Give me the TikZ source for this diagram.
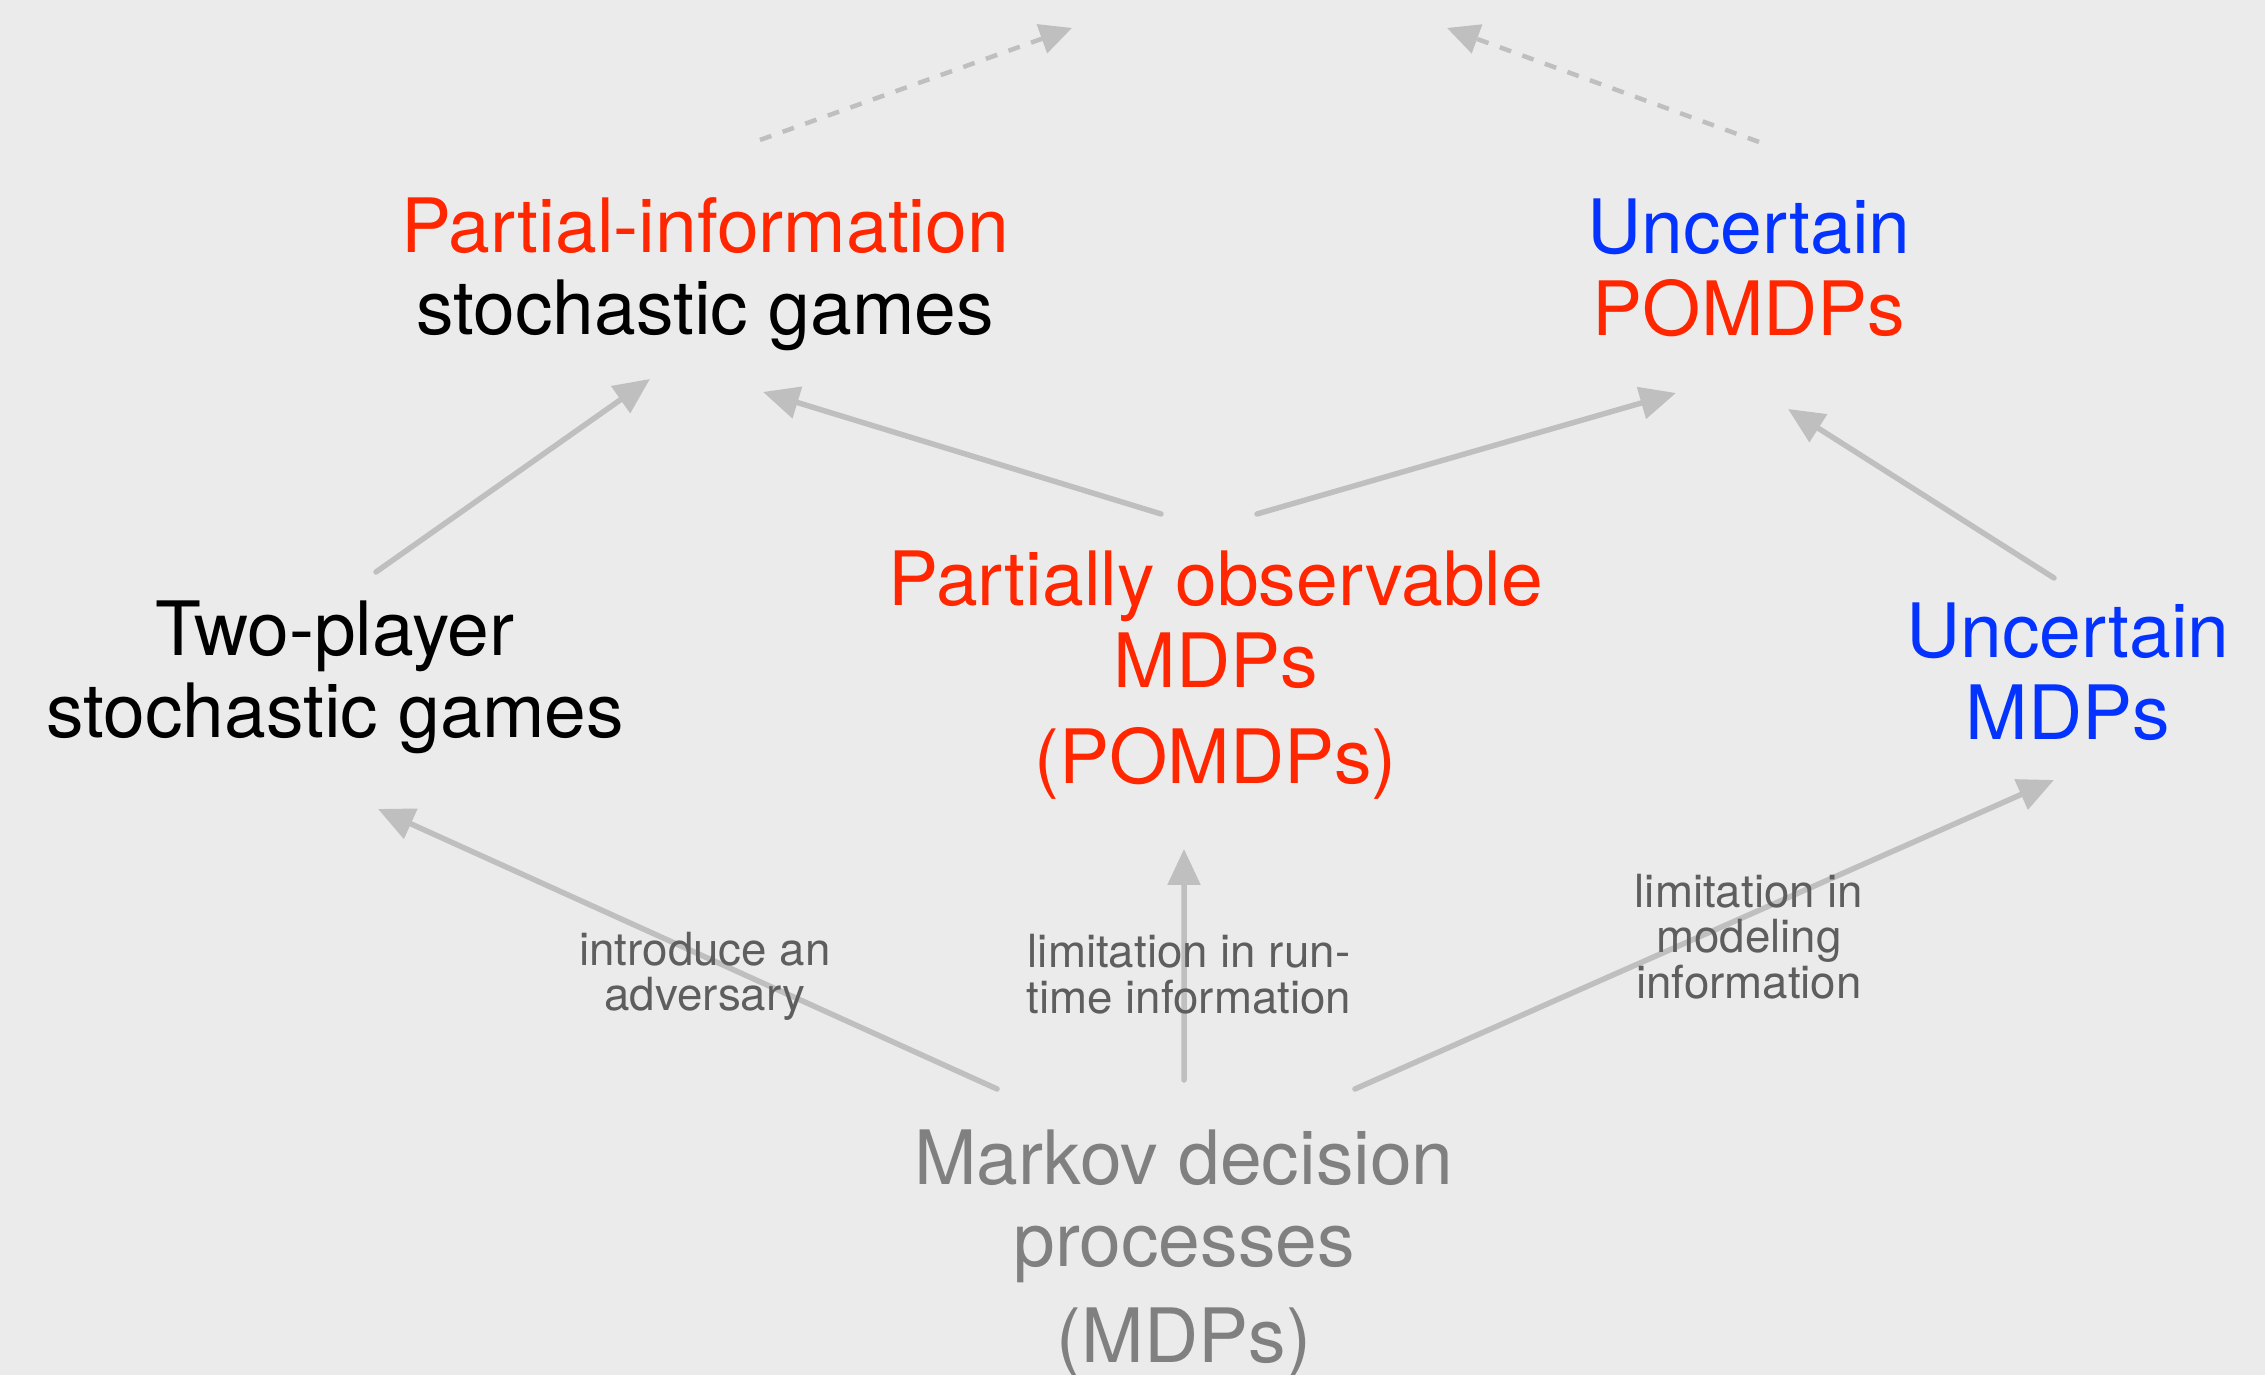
\documentclass[tikz,border=0pt]{standalone}
\usepackage{fontspec}
\setmainfont{TeX Gyre Heros}
\usetikzlibrary{arrows.meta,calc}
\definecolor{bg}{HTML}{EBEBEB}
\definecolor{kred}{HTML}{FF2600}
\definecolor{kblue}{HTML}{0433FF}
\definecolor{arrgray}{HTML}{BFBFBF}
\definecolor{mdpgray}{HTML}{808080}
\definecolor{lblgray}{HTML}{5E5E5E}
\begin{document}
\begin{tikzpicture}[
  big/.style={align=center, inner sep=0pt, font=\fontsize{21.34pt}{23.33pt}\selectfont},
  lbl/.style={align=center, inner sep=0pt, text=lblgray, font=\fontsize{13pt}{12.95pt}\selectfont},
  arr/.style={draw=arrgray, line width=0.055cm, line cap=round, -{Triangle[length=0.36cm,width=0.32cm]}},
  darr/.style={draw=arrgray, line width=0.045cm, dash pattern=on 0.12cm off 0.12cm, -{Triangle[length=0.32cm,width=0.3cm]}}
]
\fill[bg] (0,0) rectangle (22.65,13.75);
\useasboundingbox (0,0) rectangle (22.65,13.75);

\node[big] (pi) at (7.05,11.005) {\textcolor{kred}{Partial-information}\\stochastic games};
\node[big] (up) at (17.49,11.07) {\textcolor{kblue}{Uncertain}\\\textcolor{kred}{POMDPs}};
\node[big] (twop) at (3.35,6.975) {Two-player\\stochastic games};
\node[big, text=kred] (pomdp) at (12.156,6.9975) {Partially observable\\MDPs\\[0.135cm](POMDPs)};
\node[big, text=kblue] (umdp) at (20.68,7.035) {Uncertain\\MDPs};
\node[big, text=mdpgray] (mdp) at (11.84,1.2075) {Markov decision\\processes\\[0.135cm](MDPs)};

\draw[arr] ($(mdp.center)+(-1.87,1.6525)$) -- ($(twop.center)+(0.43,-1.315)$);
\draw[arr] ($(mdp.center)+(0,1.7425)$) -- ($(pomdp.center)+(-0.316,-1.7375)$);
\draw[arr] ($(mdp.center)+(1.71,1.6525)$) -- ($(umdp.center)+(-0.14,-1.085)$);
\draw[arr] ($(twop.center)+(0.41,1.055)$) -- ($(pi.center)+(-0.55,-1.045)$);
\draw[arr] ($(pomdp.center)+(-0.546,1.6125)$) -- ($(pi.center)+(0.58,-1.175)$);
\draw[arr] ($(pomdp.center)+(0.414,1.6125)$) -- ($(up.center)+(-0.73,-1.25)$);
\draw[arr] ($(umdp.center)+(-0.14,0.935)$) -- ($(up.center)+(0.39,-1.41)$);

\coordinate (topL) at (10.72,13.47);
\coordinate (topR) at (14.47,13.47);
\draw[darr] ($(pi.center)+(0.55,1.345)$) -- (topL);
\draw[darr] ($(up.center)+(0.10,1.26)$) -- (topR);

\node[lbl] (l1) at (7.05,3.986) {introduce an\\adversary};
\node[lbl] (l2) at (11.89,4.006) {limitation in run-\\time information};
\node[lbl] (l3) at (17.49,4.386) {limitation in\\modeling\\information};
\end{tikzpicture}
\end{document}
